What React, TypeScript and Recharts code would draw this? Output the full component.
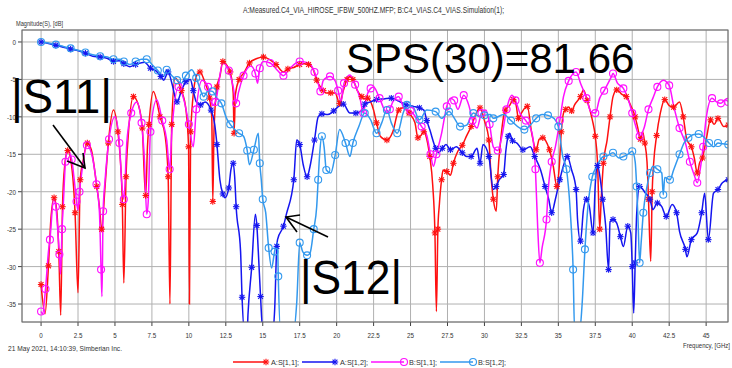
import React from 'react';
import { LineChart, Line, XAxis, YAxis, CartesianGrid } from 'recharts';

// axis ticks
const xTicks = [0, 2.5, 5, 7.5, 10, 12.5, 15, 17.5, 20, 22.5, 25, 27.5, 30, 32.5, 35, 37.5, 40, 42.5, 45];
const yTicks = [0, -5, -10, -15, -20, -25, -30, -35];

// A:S[1,1] (measured, red)
const aS11Freq = [
  0, 0.27, 0.5, 0.66, 0.88, 1.06, 1.2, 1.33, 1.45, 1.6,
  1.8, 2.1, 2.3, 2.5, 2.65, 2.86, 3.13, 3.4, 3.77, 3.95,
  4.1, 4.33, 4.55, 4.9, 5.2, 5.35, 5.5, 5.6, 5.75, 5.9,
  6.25, 6.6, 6.85, 7.0, 7.08, 7.2, 7.3, 7.6, 8.05, 8.4,
  8.6, 8.72, 8.84, 9.07, 9.5, 9.8, 9.98, 10.04, 10.12, 10.5,
  10.75, 11.1, 11.4, 11.55, 11.62, 11.7, 11.9, 12.1, 12.3, 12.6,
  12.8, 13.0, 13.06, 13.15, 13.4, 13.7, 14.1, 14.6, 15.05, 15.5,
  15.9, 16.4, 16.7, 17.1, 17.5, 17.8, 18.1, 18.4, 18.65, 18.9,
  19.1, 19.3, 19.6, 19.9, 20.2, 20.45, 20.7, 20.9, 21.1, 21.4,
  21.7, 21.85, 22.1, 22.5, 22.7, 22.95, 23.4, 23.8, 24.2, 24.5,
  24.9, 25.3, 25.5, 25.7, 25.9, 26.1, 26.3, 26.5, 26.65, 26.75,
  26.85, 26.95, 27.1, 27.2, 27.45, 27.7, 27.9, 28.2, 28.5, 28.8,
  29.1, 29.5, 29.7, 30.0, 30.3, 30.45, 30.6, 30.8, 30.9, 31.1,
  31.4, 31.7, 31.95, 32.15, 32.3, 32.5, 32.9, 33.2, 33.5, 33.7,
  33.95, 34.15, 34.4, 34.65, 34.9, 35.05, 35.2, 35.35, 35.5, 35.7,
  35.9, 36.1, 36.5, 36.7, 36.95, 37.3, 37.5, 37.65, 37.8, 37.9,
  38.05, 38.3, 38.5, 38.7, 38.95, 39.3, 39.6, 39.9, 40.2, 40.4,
  40.55, 40.7, 40.85, 41.0, 41.1, 41.25, 41.35, 41.45, 41.65, 41.9,
  42.2, 42.5, 42.8, 43.2, 43.45, 43.7, 44.0, 44.2, 44.4, 44.55,
  44.75, 45.0, 45.3, 45.55, 45.8, 46.2, 46.5,
];
const aS11Db = [
  -32.4, -36.3, -29.9, -23.8, -20.8, -22.5, -28, -36.5, -22, -16.5,
  -14.5, -17.1, -22.8, -33.5, -18.4, -15.7, -13.5, -14.4, -19.3, -22,
  -25, -19.3, -13.5, -9.1, -12, -15.3, -21.7, -32.2, -18, -12.5,
  -7.3, -8.5, -11.5, -18.4, -20.5, -14, -11, -6.6, -10, -12.6,
  -18, -35, -11, -4.8, -6.5, -9, -14, -35, -12, -4.6,
  -4.0, -5.5, -7.5, -10, -21.3, -12, -6, -4.6, -2.6, -3.2,
  -4.0, -6.8, -12.2, -7, -5, -4.2, -2.8, -2.2, -2.0, -2.4,
  -3.0, -4.0, -3.6, -3.4, -3.0, -2.9, -3.0, -3.6, -5.1, -6.0,
  -6.5, -6.8, -6.8, -6.8, -8.2, -6.5, -5.0, -4.6, -5.0, -6.5,
  -7.3, -7.6, -7.5, -9.1, -10.8, -12.6, -13.1, -12, -9.1, -8.8,
  -9.5, -10.8, -12.8, -12.5, -12, -13, -15.3, -19.1, -25.5, -36,
  -25, -21.7, -18.4, -17.1, -17.3, -17.8, -16.2, -14.6, -13.8, -12.5,
  -11.3, -9.3, -8.8, -10.5, -13.1, -18, -21, -22.6, -18, -13.1,
  -9.1, -8.5, -7.7, -8.5, -10.2, -9.5, -8.6, -12.2, -14.4, -13,
  -12.8, -13.2, -14.4, -16.5, -19.3, -17, -12, -9.5, -9.0, -8.7,
  -9.2, -8.4, -7.3, -6.4, -7.8, -10.4, -12.6, -16, -25, -21,
  -16.2, -13.1, -10, -7.3, -6.4, -7.0, -7.3, -8.5, -10, -11.7,
  -13, -12, -13.5, -16, -21, -29.3, -20, -16.2, -12.5, -9.5,
  -7.7, -8.5, -8.7, -8.0, -10, -13.1, -14.0, -15.5, -17.5, -16.2,
  -15.5, -13.1, -10.4, -11, -10.2, -11.3, -11.1,
];

// A:S[1,2] (measured, blue)
const aS12Freq = [
  0, 0.5, 1.0, 1.5, 2.0, 2.52, 3.0, 3.5, 4.0, 4.5,
  4.9, 5.3, 5.6, 6.0, 6.4, 7.0, 7.4, 7.8, 8.1, 8.3,
  8.6, 8.85, 9.2, 9.5, 9.8, 10.1, 10.3, 10.5, 10.8, 11.1,
  11.5, 11.75, 11.9, 12.1, 12.3, 12.45, 12.7, 12.85, 13.0, 13.1,
  13.2, 13.5, 13.6, 13.75, 13.95, 14.0, 14.25, 14.5, 14.6, 14.7,
  14.85, 15.0, 15.7, 15.8, 15.95, 16.0, 16.4, 16.6, 17.1, 17.3,
  17.5, 17.75, 18.0, 18.2, 18.5, 18.75, 19.0, 19.4, 19.8, 20.2,
  20.45, 20.9, 21.3, 21.8, 21.9, 22.3, 22.7, 23.2, 23.7, 24.2,
  24.7, 25.2, 25.6, 25.9, 26.1, 26.3, 26.7, 26.9, 27.15, 27.4,
  27.7, 28.1, 28.5, 28.8, 29.1, 29.5, 29.7, 29.9, 30.3, 30.6,
  30.8, 31.0, 31.3, 31.45, 31.6, 31.7, 31.9, 32.2, 32.6, 33.1,
  33.4, 33.8, 34.1, 34.35, 34.55, 34.8, 35.1, 35.35, 35.6, 35.9,
  36.2, 36.3, 36.5, 36.7, 36.9, 37.1, 37.35, 37.5, 37.65, 37.85,
  38.0, 38.2, 38.4, 38.5, 38.7, 38.95, 39.2, 39.4, 39.7, 39.9,
  40.0, 40.1, 40.2, 40.3, 40.5, 40.9, 41.2, 41.4, 41.7, 42.0,
  42.3, 42.7, 43.0, 43.2, 43.6, 43.7, 44.0, 44.4, 44.7, 44.9,
  45.15, 45.5, 45.8, 46.1, 46.5,
];
const aS12Db = [
  0, -0.2, -0.45, -0.7, -0.95, -1.16, -1.5, -1.9, -2.0, -2.2,
  -2.6, -2.5, -2.9, -3.3, -3.0, -2.7, -3.5, -3.9, -4.6, -5.1,
  -4.0, -5.5, -8.0, -6.5, -5.3, -5.0, -6.5, -8.0, -8.4, -8.0,
  -9.1, -11, -13.7, -18.4, -20.3, -20.8, -19.5, -17, -16.2, -18,
  -22, -28, -34.1, -38.5, -38.5, -36.4, -30.1, -23, -24.5, -28,
  -34, -38.5, -38.5, -36, -27.3, -26.4, -24.6, -23, -18.4, -13.1,
  -13.7, -16.5, -18, -16.6, -13.1, -10.0, -9.6, -9.7, -9.2, -8.5,
  -8.3, -9.5, -9.5, -8.8, -8.3, -8.0, -7.7, -7.6, -7.5, -7.9,
  -8.4, -8.6, -8.8, -9.1, -10.5, -11.7, -14.2, -14.8, -14.2, -13.7,
  -14.4, -14.0, -14.8, -15.3, -15.3, -14.2, -16.2, -13.7, -15.3, -19.7,
  -19.3, -18.4, -17.7, -14.5, -12.6, -12.2, -13.2, -13.5, -14.4, -14.0,
  -15.3, -17.1, -19.3, -21, -22.8, -21, -18.4, -16.5, -15.3, -17.1,
  -19.7, -23.7, -26.6, -22.4, -21, -22, -25.5, -19, -16.5, -18.5,
  -21, -24.5, -30.4, -24, -23.7, -24.2, -26, -27.3, -24.6, -25.5,
  -30, -36.2, -29.5, -23, -19.3, -20.2, -21, -22.4, -21.5, -22,
  -23.3, -21.7, -22.8, -25.3, -27.7, -28.7, -26.4, -25.5, -22.8, -20.2,
  -26.4, -20.2, -19.7, -18.8, -18.4,
];

// B:S[1,1] (simulation, magenta)
const bS11Freq = [
  0, 0.1, 0.3, 0.5, 0.6, 0.85, 1.0, 1.06, 1.24, 1.32,
  1.42, 1.51, 1.65, 1.78, 2.07, 2.25, 2.4, 2.5, 2.6, 2.75,
  3.1, 3.4, 3.75, 3.95, 4.06, 4.12, 4.2, 4.33, 4.6, 5.0,
  5.3, 5.46, 5.6, 5.8, 6.1, 6.47, 6.8, 7.0, 7.15, 7.25,
  7.4, 7.83, 8.2, 8.5, 8.7, 8.85, 9.3, 9.7, 10.0, 10.3,
  10.5, 10.9, 11.3, 11.6, 11.8, 12.3, 12.7, 13.0, 13.2, 13.35,
  13.7, 14.2, 14.5, 14.65, 14.8, 15.05, 15.5, 16.0, 16.4, 16.8,
  17.5, 18.1, 18.5, 18.75, 18.9, 19.1, 19.55, 19.9, 20.1, 20.3,
  20.5, 20.9, 21.25, 21.6, 21.8, 22.0, 22.3, 22.5, 22.9, 23.4,
  23.6, 23.8, 24.2, 24.6, 25.0, 25.4, 25.75, 26.1, 26.35, 26.55,
  26.75, 27.1, 27.45, 27.7, 27.95, 28.2, 28.6, 28.95, 29.2, 29.5,
  29.8, 30.1, 30.35, 30.6, 30.9, 31.2, 31.5, 31.85, 32.1, 32.4,
  32.8, 33.2, 33.45, 33.6, 33.75, 33.9, 34.2, 34.3, 34.55, 34.8,
  35.1, 35.35, 35.7, 36.0, 36.2, 36.5, 36.9, 37.2, 37.5, 37.8,
  38.1, 38.6, 38.7, 39.0, 39.4, 39.7, 40.0, 40.2, 40.5, 40.8,
  41.1, 41.4, 41.7, 42.1, 42.5, 42.8, 43.2, 43.6, 43.9, 44.2,
  44.4, 44.6, 44.8, 45.0, 45.4, 45.7, 46.0, 46.3, 46.5,
];
const bS11Db = [
  -36, -36.3, -33, -28, -26.4, -21, -22, -23.3, -28.4, -31,
  -25, -21.5, -16, -14.4, -15.7, -18.5, -21.3, -22.5, -20, -17.5,
  -13.8, -14.8, -19, -22.8, -30.4, -34, -22.6, -18.5, -13, -10,
  -13.5, -18.8, -21, -13.5, -9.5, -8.0, -10.8, -16, -23, -21.3,
  -12, -7.7, -10.5, -13.1, -17, -12, -6, -8, -11, -14,
  -9, -5.1, -6, -8.5, -8, -2.8, -3.8, -6, -8.2, -6.8,
  -4.5, -3.2, -4.2, -5.5, -3.5, -2.6, -2.8, -3.8, -4.5, -3.6,
  -2.6, -2.8, -4, -5.5, -6.6, -5.1, -4.6, -5.2, -6.5, -8,
  -5.5, -4.4, -5.7, -7.7, -9.5, -7.5, -6.2, -6.0, -7.5, -9.5,
  -9.0, -8.0, -7.3, -9.0, -9.2, -10.2, -11.3, -12.5, -15, -16.6,
  -15, -12.2, -8.6, -7.5, -7.8, -9.0, -7.1, -8.5, -10.5, -11.5,
  -9.5, -9.1, -11, -14, -14.5, -12.4, -9, -7.1, -7.8, -9.5,
  -10.5, -12, -17, -24.6, -29.5, -27.5, -23.7, -20.2, -16, -14,
  -10.5, -7.3, -5.2, -4.2, -4.0, -5.5, -7.5, -9.3, -9.5, -7.5,
  -6.5, -4.6, -4.2, -5.5, -6.2, -7.5, -9.5, -11, -12.6, -11.5,
  -9, -7.5, -6, -5.1, -5.8, -8.5, -11.5, -13.5, -16, -17.8,
  -18.8, -17, -14, -10.2, -7.5, -8.0, -8.2, -7.7, -8.0,
];

// B:S[1,2] (simulation, light blue)
const bS12Freq = [
  0, 0.5, 1.0, 1.5, 2.0, 2.5, 3.0, 3.5, 4.0, 4.5,
  4.9, 5.3, 5.6, 6.0, 6.4, 6.8, 7.15, 7.5, 7.9, 8.3,
  8.5, 8.85, 9.2, 9.5, 9.8, 10.2, 10.5, 10.75, 11.0, 11.3,
  11.6, 11.9, 12.2, 12.55, 12.8, 13.1, 13.4, 13.7, 13.95, 14.1,
  14.4, 14.7, 14.8, 14.9, 15.0, 15.2, 15.4, 15.6, 15.8, 16.0,
  16.05, 16.2, 17.1, 17.3, 17.5, 17.7, 18.0, 18.2, 18.45, 18.65,
  18.75, 18.85, 19.0, 19.15, 19.3, 19.6, 19.9, 20.2, 20.6, 20.9,
  21.1, 21.5, 21.9, 22.3, 22.7, 23.05, 23.4, 23.7, 24.1, 24.5,
  24.75, 25.2, 25.6, 26.1, 26.7, 27.1, 27.6, 28.0, 28.35, 28.8,
  29.25, 29.7, 30.0, 30.4, 30.6, 31.3, 31.8, 32.4, 32.7, 33.1,
  33.5, 33.9, 34.3, 34.7, 35.0, 35.3, 35.55, 35.8, 36.0, 36.1,
  36.45, 36.6, 36.8, 37.0, 37.3, 37.6, 38.05, 38.3, 38.7, 39.1,
  39.4, 39.7, 40.0, 40.2, 40.3, 40.4, 40.5, 40.6, 40.75, 41.0,
  41.2, 41.4, 41.7, 42.0, 42.1, 42.2, 42.55, 42.8, 43.2, 43.5,
  43.8, 44.1, 44.5, 44.8, 45.2, 45.5, 45.8, 46.1, 46.5,
];
const bS12Db = [
  0, -0.15, -0.35, -0.6, -0.85, -1.1, -1.4, -1.7, -1.9, -2.0,
  -2.3, -2.3, -2.6, -3.0, -2.6, -2.3, -2.3, -3.0, -3.8, -4.6,
  -3.7, -4.5, -5.1, -5.5, -4.5, -3.7, -4.8, -6.2, -7.3, -6.5,
  -6.6, -7.5, -8.2, -10.2, -11, -11.7, -12.2, -12.6, -14.5, -16.4,
  -14.4, -12.2, -16.2, -18.4, -21, -22.8, -27.5, -30.2, -28, -26.8,
  -31.3, -38.5, -38.5, -34.8, -26.8, -28, -28.5, -28.2, -25, -22,
  -18.4, -15, -12.6, -14, -17.1, -17.5, -15.1, -11.7, -13.5, -15.3,
  -13.5, -11.3, -9.5, -10.4, -12.2, -10.8, -9.1, -10.8, -12.2, -9.5,
  -8.4, -8.8, -10.4, -9.1, -9.3, -10.2, -9.3, -10.3, -11.3, -11.1,
  -9.5, -10.0, -9.8, -9.7, -10.2, -9.7, -10.5, -11.5, -11.7, -11.1,
  -10.2, -9.7, -9.8, -10.2, -11.3, -15.3, -17, -22.4, -30.4, -38.5,
  -38.5, -35.3, -27.7, -22, -18, -16.6, -15.3, -15.2, -14.8, -15.5,
  -15.3, -15, -14.6, -16, -19.3, -24.2, -29.5, -26.9, -22.8, -19.3,
  -17.5, -16.6, -17, -17.5, -20.4, -18.1, -18.4, -17.1, -15, -13.5,
  -12.8, -12.4, -12.3, -12.6, -13.5, -14.0, -13.5, -13.6, -13.7,
];

const Y_MIN = -37.4;
const Y_MAX = 1.6;

const toPoints = (freq: number[], db: number[]) => freq.map((f, i) => ({ f, v: db[i] }));

const series = [
  { name: 'A:S[1,1];', color: '#ff1010', marker: 'star', data: toPoints(aS11Freq, aS11Db) },
  { name: 'A:S[1,2];', color: '#1515f0', marker: 'star', data: toPoints(aS12Freq, aS12Db) },
  { name: 'B:S[1,1];', color: '#ff10ff', marker: 'circle', data: toPoints(bS11Freq, bS11Db) },
  { name: 'B:S[1,2];', color: '#3399ee', marker: 'circle', data: toPoints(bS12Freq, bS12Db) },
];

const arial = '"Liberation Sans", Arial, sans-serif';
const textCol = '#333';

function Marker({ x, y, kind, color }: { x: number; y: number; kind: string; color: string }) {
  if (kind === 'circle') {
    return <circle cx={x} cy={y} r={3.5} fill="none" stroke={color} strokeWidth={1.1} />;
  }
  const r = 3.2;
  const d = r * 0.75;
  return (
    <g stroke={color} strokeWidth={1.1}>
      <line x1={x - r} y1={y} x2={x + r} y2={y} />
      <line x1={x} y1={y - r} x2={x} y2={y + r} />
      <line x1={x - d} y1={y - d} x2={x + d} y2={y + d} />
      <line x1={x - d} y1={y + d} x2={x + d} y2={y - d} />
    </g>
  );
}

const makeDot = (kind: string, color: string) => (props: any) => {
  const { cx, cy, index, payload } = props;
  if (index % 2 !== 0 || cx == null || cy == null || payload.v < Y_MIN) {
    return <g key={`n-${index}`} />;
  }
  return (
    <g key={`d-${index}`}>
      <Marker x={cx} y={cy} kind={kind} color={color} />
    </g>
  );
};

// narrow tick labels (condensed look of the original software)
const XTick = (props: any) => {
  const { x, y, payload } = props;
  return (
    <g transform={`translate(${x},${y + 12})`}>
      <text transform="scale(0.78,1)" textAnchor="middle" fontSize={8} fontFamily={arial} fill={textCol}>
        {payload.value}
      </text>
    </g>
  );
};

const YTick = (props: any) => {
  const { x, y, payload } = props;
  return (
    <g transform={`translate(${x},${y + 3})`}>
      <text transform="scale(0.78,1)" textAnchor="end" fontSize={8} fontFamily={arial} fill={textCol}>
        {payload.value}
      </text>
    </g>
  );
};

export default function App() {
  return (
    <div style={{ position: 'absolute', left: 0, top: 0, width: 732, height: 368, background: '#fff', overflow: 'hidden' }}>
      <LineChart width={732} height={368} margin={{ top: 30, right: 4, bottom: 0, left: 0 }}>
        <CartesianGrid stroke="#b0b0b0" strokeWidth={1} />
        <XAxis
          type="number"
          dataKey="f"
          domain={[-1.29, 46.48]}
          ticks={xTicks}
          interval={0}
          allowDataOverflow
          axisLine={false}
          tickLine={{ stroke: '#404040' }}
          tickSize={4}
          tickMargin={0}
          height={46}
          tick={<XTick />}
        />
        <YAxis
          type="number"
          domain={[Y_MIN, Y_MAX]}
          ticks={yTicks}
          interval={0}
          allowDataOverflow
          axisLine={false}
          tickLine={{ stroke: '#404040' }}
          tickSize={4}
          tickMargin={2}
          width={22}
          tick={<YTick />}
        />
        {series.map((s) => (
          <Line
            key={s.name}
            data={s.data}
            dataKey="v"
            type="monotone"
            stroke={s.color}
            strokeWidth={1.5}
            dot={makeDot(s.marker, s.color)}
            activeDot={false}
            isAnimationActive={false}
          />
        ))}
      </LineChart>

      <svg
        width={732}
        height={368}
        style={{ position: 'absolute', left: 0, top: 0, pointerEvents: 'none' }}
      >
        {/* plot frame */}
        <rect x={22} y={30} width={706} height={292} fill="none" stroke="#6a6a6a" strokeWidth={1} />

        {/* header / footer texts */}
        <text x={243} y={13} fontSize={8.5} fontFamily={arial} fill={textCol} textLength={261} lengthAdjust="spacingAndGlyphs">
          A:Measured.C4_VIA_HIROSE_IFBW_500HZ.MFP; B:C4_VIAS.C4_VIAS.Simulation(1);
        </text>
        <text x={16} y={26} fontSize={8} fontFamily={arial} fill={textCol} textLength={47} lengthAdjust="spacingAndGlyphs">
          Magnitude(S), [dB]
        </text>
        <text x={8} y={351} fontSize={8} fontFamily={arial} fill={textCol} textLength={114} lengthAdjust="spacingAndGlyphs">
          21 May 2021, 14:10:39, Simberian Inc.
        </text>
        <text x={683} y={348} fontSize={8} fontFamily={arial} fill={textCol} textLength={47} lengthAdjust="spacingAndGlyphs">
          Frequency, [GHz]
        </text>

        {/* annotations */}
        <text x={346} y={73} fontSize={42} fontFamily={arial} fill="#000">
          SPS(30)=81.66
        </text>
        <text x={11} y={113} fontSize={48} fontFamily={arial} fill="#000" textLength={101} lengthAdjust="spacingAndGlyphs">
          |S11|
        </text>
        <text x={300} y={293.5} fontSize={48} fontFamily={arial} fill="#000" textLength={102} lengthAdjust="spacingAndGlyphs">
          |S12|
        </text>
        <g stroke="#000" strokeWidth={1.6} fill="none">
          <line x1={53} y1={125} x2={85} y2={168} />
          <polyline points="67,161 85,168 83,153" />
          <line x1={328} y1={237} x2={286} y2={217} />
          <polyline points="300,215 286,217 297,232" />
        </g>

        {/* legend */}
        {series.map((s, i) => {
          const x0 = [233, 302, 371, 440][i];
          return (
            <g key={s.name}>
              <line x1={x0} y1={362} x2={x0 + 33} y2={362} stroke={s.color} strokeWidth={1.5} />
              <Marker x={x0 + 33} y={362} kind={s.marker} color={s.color} />
              <text x={x0 + 38} y={365} fontSize={8} fontFamily={arial} fill={textCol} textLength={28} lengthAdjust="spacingAndGlyphs">
                {s.name}
              </text>
            </g>
          );
        })}
      </svg>
    </div>
  );
}
